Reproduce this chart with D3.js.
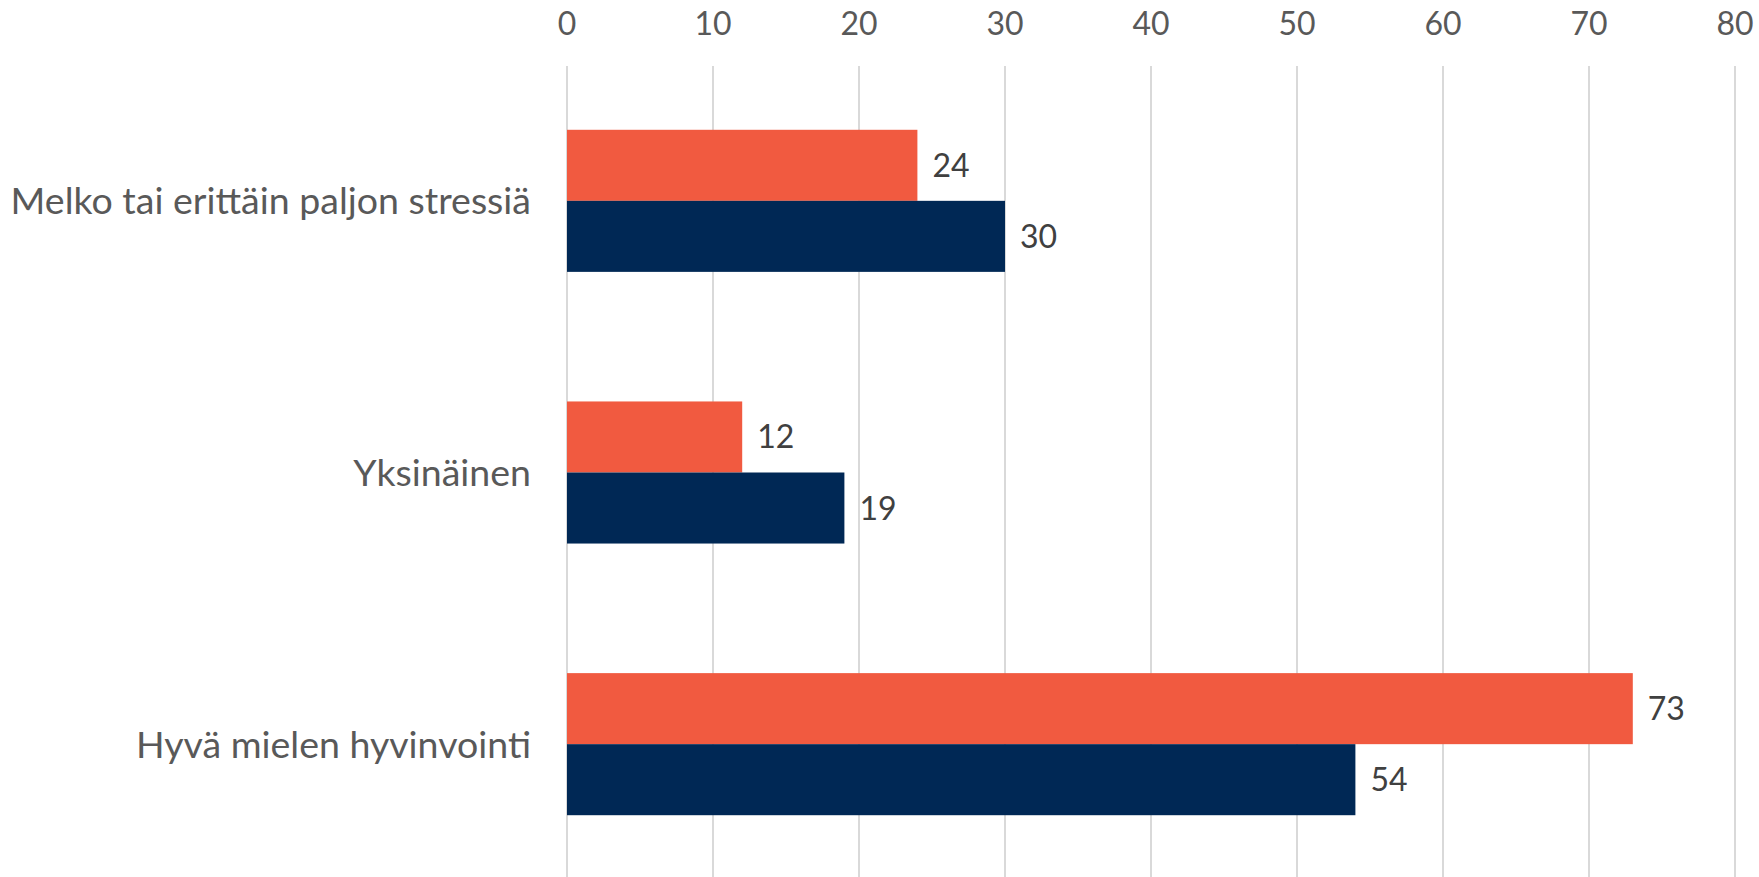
<!DOCTYPE html>
<html>
<head>
<meta charset="utf-8">
<script src="https://cdn.jsdelivr.net/npm/d3@7"></script>
<style>
    body { margin: 0; background: #fff; }
    svg { display: block; font-family: Lato, "Open Sans", sans-serif; }
</style>
</head>
<body>
<svg id="chart" width="1759" height="877"></svg>
<script>
// Data
var categories = ["Melko tai erittäin paljon stressiä", "Yksinäinen", "Hyvä mielen hyvinvointi"];
var seriesNames = ["Sarja 1", "Sarja 2"];
var series1 = [24, 12, 73];
var series2 = [30, 19, 54];
var tickValues = [0, 10, 20, 30, 40, 50, 60, 70, 80];

var colors = ["#F15A40", "#002855"];

// Layout
var w = 1759;
var h = 877;
var plotLeft = 567, plotRight = 1735;
var plotTop = 65, plotBottom = 880;

var svg = d3.select("#chart");

var xScale = d3.scaleLinear()
    .domain([0, 80])
    .range([plotLeft, plotRight]);

var yScale = d3.scaleBand()
    .domain(categories)
    .range([plotTop, plotBottom])
    .paddingInner(0.477)
    .paddingOuter(0.2385);

var subScale = d3.scaleBand()
    .domain(seriesNames)
    .range([0, yScale.bandwidth()]);

// Gridlines
svg.append("g")
    .selectAll("line")
    .data(tickValues)
    .enter()
    .append("line")
    .attr("x1", function (d) { return xScale(d); })
    .attr("x2", function (d) { return xScale(d); })
    .attr("y1", 66)
    .attr("y2", h)
    .attr("stroke", "#d9d9d9")
    .attr("stroke-width", 2);

// Tick labels on top
svg.append("g")
    .selectAll("text")
    .data(tickValues)
    .enter()
    .append("text")
    .attr("x", function (d) { return xScale(d); })
    .attr("y", 35)
    .attr("text-anchor", "middle")
    .attr("font-size", "32px")
    .attr("fill", "#595959")
    .text(function (d) { return d; });

// Bars
var rows = categories.map(function (c, i) {
    return [
        { cat: c, s: seriesNames[0], v: series1[i], color: colors[0] },
        { cat: c, s: seriesNames[1], v: series2[i], color: colors[1] }
    ];
});
var flat = [].concat.apply([], rows);

svg.append("g")
    .selectAll("rect")
    .data(flat)
    .enter()
    .append("rect")
    .attr("x", xScale(0))
    .attr("y", function (d) { return yScale(d.cat) + subScale(d.s); })
    .attr("width", function (d) { return xScale(d.v) - xScale(0); })
    .attr("height", subScale.bandwidth())
    .attr("fill", function (d) { return d.color; });

// Value labels
svg.append("g")
    .selectAll("text")
    .data(flat)
    .enter()
    .append("text")
    .attr("x", function (d) { return xScale(d.v) + 15; })
    .attr("y", function (d) { return yScale(d.cat) + subScale(d.s) + subScale.bandwidth() / 2; })
    .attr("dy", "0.36em")
    .attr("font-size", "32px")
    .attr("fill", "#404040")
    .text(function (d) { return d.v; });

// Category labels
svg.append("g")
    .selectAll("text")
    .data(categories)
    .enter()
    .append("text")
    .attr("x", 531)
    .attr("y", function (d) { return yScale(d) + yScale.bandwidth() / 2; })
    .attr("dy", "0.36em")
    .attr("text-anchor", "end")
    .attr("font-size", "37.5px")
    .attr("fill", "#595959")
    .text(function (d) { return d; });
</script>
</body>
</html>
